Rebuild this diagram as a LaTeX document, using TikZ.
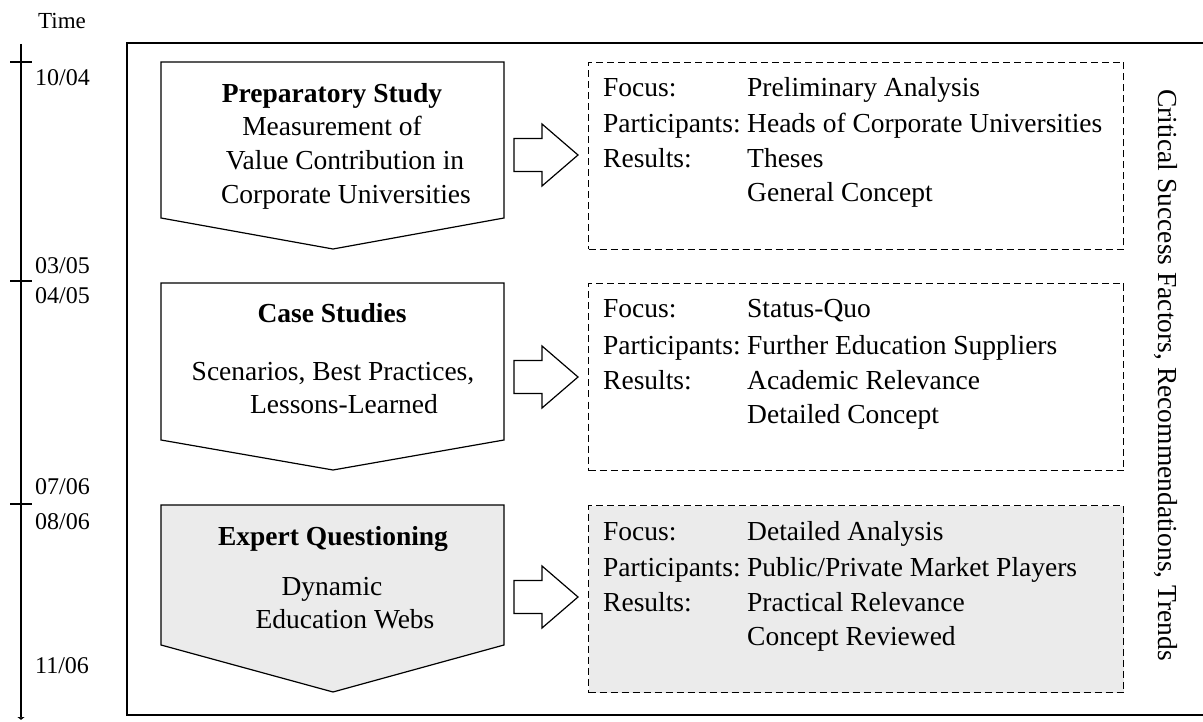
\documentclass[tikz,border=0pt]{standalone}
\usepackage{fontspec}
\setmainfont{Liberation Serif}
\usetikzlibrary{arrows.meta}
\begin{document}
\begin{tikzpicture}[x=1pt,y=-1pt,
    phase/.style={draw,line width=1.2pt,line join=miter},
    infobox/.style={draw,dashed,line width=1pt,dash pattern=on 7pt off 4pt,
      minimum width=535pt,minimum height=187pt,anchor=north west,inner sep=0pt},
    blockarrow/.style={draw,line width=1.2pt,fill=white},
    txt/.style={font=\fontsize{27.5}{32}\selectfont,inner sep=0pt},
    key/.style={txt,anchor=base west},
    lbl/.style={font=\fontsize{24}{28}\selectfont,inner sep=0pt,anchor=base west}]
  \useasboundingbox (0,0) rectangle (1203,722);
  % time axis
  \node[font=\fontsize{23}{26}\selectfont,inner sep=0pt,anchor=base west] (time) at (38,29) {Time};
  \draw[line width=1.2pt,-{Latex[length=3pt,width=8pt]}] (21,44) coordinate (t0) -- (21,720) coordinate (t1);
  \draw[line width=1.2pt] (10,62) -- (32,62);
  \draw[line width=1.2pt] (10,281) -- (32,281);
  \draw[line width=1.2pt] (10,504) -- (32,504);
  \node[lbl] (d1) at (35,86) {10/04};
  \node[lbl] (d2) at (35,274) {03/05};
  \node[lbl] (d3) at (35,304) {04/05};
  \node[lbl] (d4) at (35,494) {07/06};
  \node[lbl] (d5) at (35,529) {08/06};
  \node[lbl] (d6) at (35,673) {11/06};
  % frame
  \draw[line width=1.2pt] (127,43) rectangle (1230,715);
  \node[txt,rotate=-90] (csf) at (1166,375) {Critical Success Factors, Recommendations, Trends};
  % phases
  \draw[phase] (161,62) -- (504,62) -- (504,218) -- (333,249) -- (161,218) -- cycle;
  \draw[phase] (161,283) -- (504,283) -- (504,440) -- (333,470) -- (161,440) -- cycle;
  \draw[phase,fill=gray!16] (161,505) -- (504,505) -- (504,645) -- (333,692) -- (161,645) -- cycle;
  \node[txt,anchor=base] (prep) at (332,103) {\textbf{Preparatory Study}};
  \node[txt,anchor=base] (prep1) at (332,136) {Measurement of};
  \node[txt,anchor=base] (prep2) at (345,170) {Value Contribution in};
  \node[txt,anchor=base] (prep3) at (346,204) {Corporate Universities};
  \node[txt,anchor=base] (cases) at (332,323) {\textbf{Case Studies}};
  \node[txt,anchor=base] (cases1) at (333,380) {Scenarios, Best Practices,};
  \node[txt,anchor=base] (cases2) at (344,413) {Lessons-Learned};
  \node[txt,anchor=base] (expert) at (333,545) {\textbf{Expert Questioning}};
  \node[txt,anchor=base] (expert1) at (332,595) {Dynamic};
  \node[txt,anchor=base] (expert2) at (345,628) {Education Webs};
  % block arrows
  \draw[blockarrow] (514,138.5) -- (542,138.5) -- (542,124) -- (578,155) -- (542,186) -- (542,171.5) -- (514,171.5) -- cycle;
  \draw[blockarrow] (514,360.5) -- (542,360.5) -- (542,346) -- (578,377) -- (542,408) -- (542,393.5) -- (514,393.5) -- cycle;
  \draw[blockarrow] (514,580.5) -- (542,580.5) -- (542,566) -- (578,597) -- (542,628) -- (542,613.5) -- (514,613.5) -- cycle;
  % result boxes
  \node[infobox] (box1) at (588,62) {};
  \node[infobox] (box2) at (588,283) {};
  \node[infobox,fill=gray!16] (box3) at (588,505) {};
  \node[key] (f1) at (603,97) {Focus:};
  \node[key] (p1) at (603,133) {Participants:};
  \node[key] (r1) at (603,168) {Results:};
  \node[key] (fv1) at (747,97) {Preliminary Analysis};
  \node[key] (pv1) at (747,133) {Heads of Corporate Universities};
  \node[key] (rv1) at (747,168) {Theses};
  \node[key] (rw1) at (747,202) {General Concept};
  \node[key] (f2) at (603,318) {Focus:};
  \node[key] (p2) at (603,354) {Participants:};
  \node[key] (r2) at (603,389) {Results:};
  \node[key] (fv2) at (747,318) {Status-Quo};
  \node[key] (pv2) at (747,354) {Further Education Suppliers};
  \node[key] (rv2) at (747,389) {Academic Relevance};
  \node[key] (rw2) at (747,423) {Detailed Concept};
  \node[key] (f3) at (603,540) {Focus:};
  \node[key] (p3) at (603,576) {Participants:};
  \node[key] (r3) at (603,611) {Results:};
  \node[key] (fv3) at (747,540) {Detailed Analysis};
  \node[key] (pv3) at (747,576) {Public/Private Market Players};
  \node[key] (rv3) at (747,611) {Practical Relevance};
  \node[key] (rw3) at (747,645) {Concept Reviewed};
\end{tikzpicture}
\end{document}
